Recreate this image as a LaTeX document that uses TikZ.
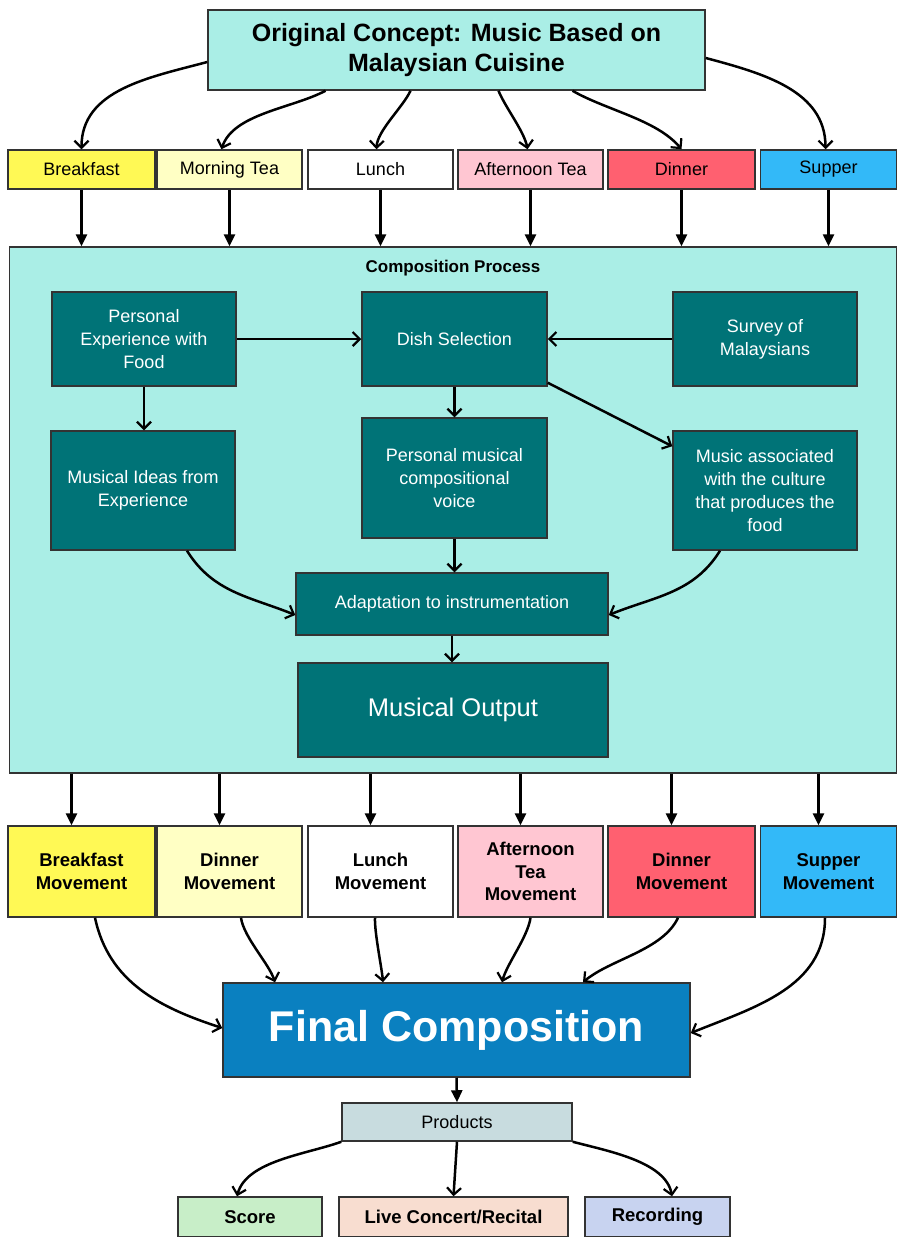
\documentclass[tikz,border=0pt]{standalone}
\usepackage{fontspec}
\setmainfont{Liberation Sans}
\usetikzlibrary{arrows.meta}
\definecolor{compbg}{HTML}{AAEEE6}
\definecolor{teal2}{HTML}{007377}
\definecolor{cyel}{HTML}{FFF955}
\definecolor{clyel}{HTML}{FFFFC4}
\definecolor{cpink}{HTML}{FFC6D2}
\definecolor{cred}{HTML}{FF6070}
\definecolor{cblue}{HTML}{33B9F8}
\definecolor{cfinal}{HTML}{0A80C0}
\definecolor{cprod}{HTML}{C8DCDF}
\definecolor{cscore}{HTML}{C8EEC8}
\definecolor{clive}{HTML}{F8DDD0}
\definecolor{crec}{HTML}{C8D3F0}
\definecolor{edge}{HTML}{333333}
\tikzset{
  box/.style={draw=edge, line width=1.5pt, inner sep=0pt, align=center, text=black},
  meal/.style={box, minimum height=39pt, font=\fontsize{18}{21}\selectfont},
  mov/.style={box, minimum height=91pt, font=\bfseries\fontsize{18.5}{22.5}\selectfont},
  inner/.style={box, fill=teal2, text=white, font=\fontsize{18}{23}\selectfont},
  prodbox/.style={box, minimum height=40pt, font=\bfseries\fontsize{18.5}{22}\selectfont},
  barb/.style={-{Straight Barb[length=7pt,width=14pt,line width=2.2pt]}, line width=2.5pt},
  tri/.style={-{Triangle[length=12pt,width=11pt]}, line width=2.5pt},
}
\begin{document}
\begin{tikzpicture}[x=1pt,y=1pt]
\useasboundingbox (0,0) rectangle (898,-1237);
\fill[white] (0,0) rectangle (898,-1237);
% top
\node[box, fill=compbg, minimum width=497pt, minimum height=80pt, font=\bfseries\fontsize{25}{30}\selectfont] (top) at (456.5,-50) {Original Concept: Music Based on\\Malaysian Cuisine};
% meals
\node[meal, fill=cyel, minimum width=147pt] (bf) at (81.5,-169.5) {Breakfast};
\node[meal, fill=clyel, minimum width=145pt] (mt) at (229.5,-169.5) {Morning Tea};
\node[meal, fill=white, minimum width=145pt] (lu) at (380.5,-169.5) {Lunch};
\node[meal, fill=cpink, minimum width=145pt] (at) at (530.5,-169.5) {Afternoon Tea};
\node[meal, fill=cred, minimum width=147pt] (di) at (681.5,-169.5) {Dinner};
\node[meal, fill=cblue, minimum width=136pt] (su) at (828.5,-169.5) {Supper};
% composition box
\node[box, fill=compbg, minimum width=887pt, minimum height=526pt] (comp) at (453,-510) {};
\node[font=\bfseries\fontsize{17}{20}\selectfont, inner sep=0pt] (ctitle) at (453,-268) {Composition Process};
\node[inner, minimum width=184pt, minimum height=94pt] (pe) at (144,-339) {Personal\\Experience with\\Food};
\node[inner, minimum width=185pt, minimum height=94pt] (dish) at (454.5,-339) {Dish Selection};
\node[inner, minimum width=184pt, minimum height=94pt] (sv) at (765,-339) {Survey of\\Malaysians};
\node[inner, minimum width=184pt, minimum height=119pt] (ideas) at (143,-490.5) {Musical Ideas from\\Experience};
\node[inner, minimum width=185pt, minimum height=120pt] (voice) at (454.5,-478) {Personal musical\\compositional\\voice};
\node[inner, minimum width=184pt, minimum height=119pt] (assoc) at (765,-490.5) {Music associated\\with the culture\\that produces the\\food};
\node[inner, minimum width=312pt, minimum height=62pt] (adapt) at (452,-604) {Adaptation to instrumentation};
\node[inner, minimum width=310pt, minimum height=94pt, font=\fontsize{25.5}{30}\selectfont] (out) at (453,-710) {Musical Output};
% movements
\node[mov, fill=cyel, minimum width=147pt] (m1) at (81.5,-871.5) {Breakfast\\Movement};
\node[mov, fill=clyel, minimum width=145pt] (m2) at (229.5,-871.5) {Dinner\\Movement};
\node[mov, fill=white, minimum width=145pt] (m3) at (380.5,-871.5) {Lunch\\Movement};
\node[mov, fill=cpink, minimum width=145pt] (m4) at (530.5,-871.5) {Afternoon\\Tea\\Movement};
\node[mov, fill=cred, minimum width=147pt] (m5) at (681.5,-871.5) {Dinner\\Movement};
\node[mov, fill=cblue, minimum width=136pt] (m6) at (828.5,-871.5) {Supper\\Movement};
% final
\node[box, fill=cfinal, text=white, minimum width=467pt, minimum height=94pt, font=\bfseries\fontsize{43}{48}\selectfont] (final) at (456.5,-1030) {Final Composition};
\node[box, fill=cprod, minimum width=230pt, minimum height=38pt, font=\fontsize{18}{21}\selectfont] (prod) at (457,-1122) {Products};
\node[prodbox, fill=cscore, minimum width=144pt] (score) at (250,-1217) {Score};
\node[prodbox, fill=clive, minimum width=229pt] (live) at (453.5,-1217) {Live Concert/Recital};
\node[prodbox, fill=crec, minimum width=145pt] (rec) at (657.5,-1217) {Recording};
% top arrows
\draw[barb] ([yshift=-12pt]top.west) to[out=195,in=90] (bf.north);
\draw[barb] ([xshift=-131pt]top.south) to[out=208,in=72,looseness=0.8] ([xshift=-8pt]mt.north);
\draw[barb] ([xshift=-46pt]top.south) to[out=245,in=88,looseness=0.7] ([xshift=-4pt]lu.north);
\draw[barb] ([xshift=42pt]top.south) to[out=-68,in=100,looseness=0.7] ([xshift=-3pt]at.north);
\draw[barb] ([xshift=116pt]top.south) to[out=-30,in=130,looseness=0.8] (di.north);
\draw[barb] ([yshift=-8pt]top.east) to[out=-15,in=90] ([xshift=-3pt]su.north);
% meals to composition
\foreach \m in {bf,mt,lu,at,di,su}{
  \draw[tri] (\m.south) -- (\m.south |- comp.north);
}
% inside
\draw[barb] (pe.east) -- (dish.west);
\draw[barb] (sv.west) -- (dish.east);
\draw[barb] (pe.south) -- (pe.south |- ideas.north);
\draw[barb] (dish.south) -- (voice.north);
\draw[barb] ([yshift=4pt]dish.south east) -- ([yshift=-16pt]assoc.north west);
\draw[barb] ([xshift=44pt]ideas.south) to[out=-58,in=158] ([yshift=-11pt]adapt.west);
\draw[barb] ([xshift=-45pt]assoc.south) to[out=238,in=22] ([yshift=-11pt]adapt.east);
\draw[barb] (voice.south) -- (voice.south |- adapt.north);
\draw[barb] (adapt.south) -- (adapt.south |- out.north);
% composition to movements
\foreach \m in {m1,m2,m3,m4,m5,m6}{
  \draw[tri] ([xshift=-10pt]\m.north |- comp.south) -- ([xshift=-10pt]\m.north);
}
% movements to final
\draw[barb] ([xshift=13.5pt]m1.south) to[out=-78,in=162] ([yshift=2pt]final.west);
\draw[barb] ([xshift=11.5pt]m2.south) to[out=-82,in=108,looseness=0.7] ([xshift=-181.5pt]final.north);
\draw[barb] ([xshift=-5.5pt]m3.south) to[out=-92,in=95,looseness=0.6] ([xshift=-73.5pt]final.north);
\draw[barb] (m4.south) to[out=-98,in=75,looseness=0.7] ([xshift=45.5pt]final.north);
\draw[barb] ([xshift=-3.5pt]m5.south) to[out=-115,in=40,looseness=0.8] ([xshift=126.5pt]final.north);
\draw[barb] ([xshift=-3.5pt]m6.south) to[out=-90,in=22] ([yshift=-3pt]final.east);
% final to products
\draw[tri] (final.south) -- (prod.north);
\draw[barb] (prod.south west) to[out=200,in=75,looseness=0.8] ([xshift=-13pt]score.north);
\draw[barb] (prod.south) -- (live.north);
\draw[barb] (prod.south east) to[out=-15,in=100,looseness=0.8] ([xshift=14.5pt]rec.north);
\end{tikzpicture}
\end{document}
